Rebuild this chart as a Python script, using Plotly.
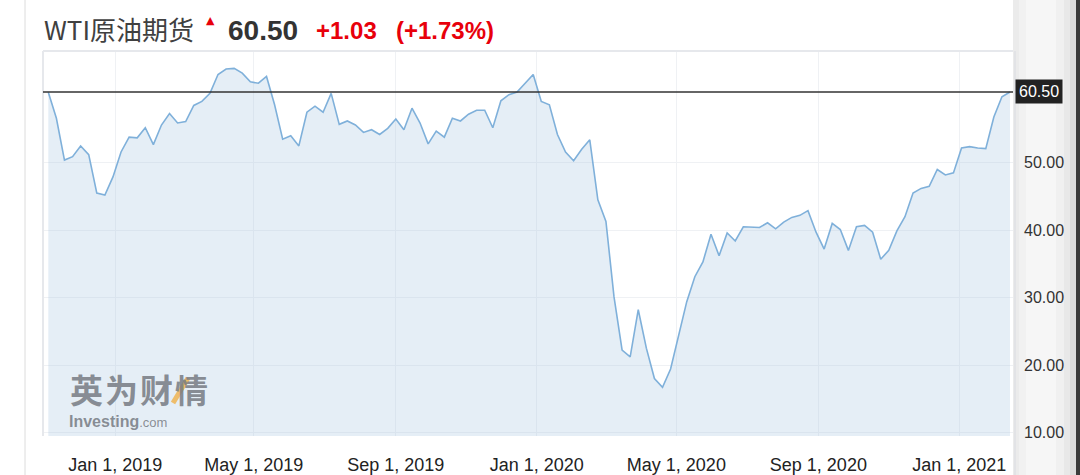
import pandas as pd
import plotly.graph_objects as go

# ---------------- data ----------------
start_week = "2018-11-04"
prices = [
    60.46, 56.6, 50.4, 50.9, 52.5, 51.2, 45.5, 45.2, 47.9, 51.6,
    53.8, 53.7, 55.2, 52.7, 55.6, 57.3, 55.9, 56.1, 58.5, 59.1,
    60.3, 63.1, 63.9, 64.0, 63.3, 62.0, 61.8, 62.8, 58.6, 53.5,
    54.0, 52.5, 57.5, 58.4, 57.5, 60.3, 55.7, 56.2, 55.6, 54.5,
    54.9, 54.2, 55.1, 56.5, 54.9, 58.1, 55.9, 52.8, 54.7, 53.8,
    56.6, 56.2, 57.2, 57.8, 57.8, 55.2, 59.2, 60.1, 60.5, 61.8,
    63.1, 59.1, 58.6, 54.2, 51.6, 50.3, 52.0, 53.4, 44.5, 41.3,
    30.1, 22.2, 21.2, 28.2, 22.5, 18.0, 16.7, 19.4, 24.2, 29.4,
    33.1, 35.3, 39.4, 36.2, 39.6, 38.4, 40.5, 40.4, 40.4, 41.1,
    40.2, 41.2, 41.9, 42.2, 42.9, 39.7, 37.2, 41.0, 40.1, 37.0,
    40.5, 40.7, 39.7, 35.7, 37.0, 39.9, 42.0, 45.5, 46.2, 46.5,
    49.0, 48.2, 48.5, 52.2, 52.4, 52.2, 52.1, 56.8, 59.8, 60.50,
]
dates = pd.date_range(start_week, periods=len(prices), freq="7D")

x_tick_vals = ["2019-01-01", "2019-05-01", "2019-09-01", "2020-01-01",
               "2020-05-01", "2020-09-01", "2021-01-01"]
x_tick_text = ["Jan 1, 2019", "May 1, 2019", "Sep 1, 2019", "Jan 1, 2020",
               "May 1, 2020", "Sep 1, 2020", "Jan 1, 2021"]
y_tick_vals = [10, 20, 30, 40, 50]

title_name = "WTI原油期货"
last_price = prices[-1]
change = 1.03
change_pct = 1.73
watermark_cn = "英为财情"

# ---------------- layout geometry ----------------
W, H = 1080, 475
L, R, T, B = 43, 1013, 51, 436          # plot area in pixels


def px(x):
    return (x - L) / (R - L)


def py(y):
    return (B - y) / (B - T)


fig = go.Figure()
fig.add_trace(go.Scatter(
    x=dates, y=prices, mode="lines",
    line=dict(color="#7fb0da", width=1.6),
    fill="tozeroy", fillcolor="rgba(170,198,226,0.30)",
    hoverinfo="skip", showlegend=False,
))

panel = [(R, 1019, "#ebebeb"), (1019, 1026, "#f1f1f1"), (1026, 1056, "#f6f6f6"),
         (1056, 1064, "#f0f0f0"), (1064, 1070, "#e8e8e8"), (1070, 1076, "#dedede"),
         (1076, W, "#3c3c3c")]
shapes = [
    dict(type="rect", xref="paper", yref="paper", x0=px(a), x1=px(b), y0=py(H), y1=py(0),
         fillcolor=c, line_width=0, layer="below")
    for a, b, c in panel
]
shapes += [
    dict(type="line", xref="paper", yref="paper", x0=px(R + 2), x1=px(R + 2), y0=py(H), y1=py(T),
         line=dict(color="#dfe1e5", width=1.5)),
    # page border on the left
    dict(type="line", xref="paper", yref="paper", x0=px(25), x1=px(25), y0=py(H), y1=py(0),
         line=dict(color="#dcdcdc", width=1)),
    # plot frame
    dict(type="line", xref="paper", yref="paper", x0=px(L), x1=px(R), y0=py(T), y1=py(T),
         line=dict(color="#e6e8ec", width=2)),
    dict(type="line", xref="paper", yref="paper", x0=px(L), x1=px(L), y0=py(T), y1=py(B),
         line=dict(color="#e6e8ec", width=2)),
    # last price line
    dict(type="line", xref="paper", yref="y", x0=0, x1=1, y0=last_price, y1=last_price,
         line=dict(color="#333333", width=1.5)),
    # watermark orange slash
    dict(type="line", xref="paper", yref="paper", x0=px(173), x1=px(188), y0=py(403), y1=py(378),
         line=dict(color="rgba(240,172,60,0.75)", width=5)),
]

red = "#e8000b"
wm_color = "rgba(118,123,130,0.85)"
annotations = [
    dict(x=px(42), y=py(29), text=title_name, showarrow=False, xanchor="left", yanchor="middle",
         font=dict(family="Noto Sans CJK SC", size=26, color="#404040")),
    dict(x=px(210), y=py(21), text="▲", showarrow=False, xanchor="center", yanchor="middle",
         font=dict(family="DejaVu Sans", size=11, color=red)),
    dict(x=px(226), y=py(30), text=f"<b>{last_price:.2f}</b>", showarrow=False, xanchor="left",
         yanchor="middle", font=dict(family="Liberation Sans", size=28, color="#333333")),
    dict(x=px(314), y=py(31), text=f"<b>{change:+.2f}</b>", showarrow=False, xanchor="left",
         yanchor="middle", font=dict(family="Liberation Sans", size=24, color=red)),
    dict(x=px(394), y=py(31), text=f"<b>({change_pct:+.2f}%)</b>", showarrow=False, xanchor="left",
         yanchor="middle", font=dict(family="Liberation Sans", size=24, color=red)),
    # last price tag
    dict(x=px(R + 2), y=last_price, xref="paper", yref="y", text=f"{last_price:.2f}",
         showarrow=False, xanchor="left", yanchor="middle", bgcolor="#222222",
         borderpad=3, font=dict(family="Liberation Sans", size=16, color="#ffffff")),
    dict(x=px(67), y=py(421), text="<b>Investing</b><span style='font-size:13px'>.com</span>",
         showarrow=False, xanchor="left", yanchor="middle",
         font=dict(family="Liberation Sans", size=16, color=wm_color)),
]
# watermark characters, spaced like the original logo
for i, ch in enumerate(watermark_cn):
    annotations.append(dict(x=px(86 + 35 * i), y=py(389), text=f"<b>{ch}</b>", showarrow=False,
                            xanchor="center", yanchor="middle",
                            font=dict(family="Noto Sans CJK SC", size=33, color=wm_color)))
for a in annotations:
    a.setdefault("xref", "paper")
    a.setdefault("yref", "paper")

fig.update_layout(
    width=W, height=H, template="none",
    margin=dict(l=L, r=W - R, t=T, b=H - B, pad=0),
    paper_bgcolor="white", plot_bgcolor="white",
    showlegend=False, shapes=shapes, annotations=annotations,
    xaxis=dict(
        type="date", range=["2018-10-30 09:40", "2021-02-16 14:00"],
        tickvals=x_tick_vals, ticktext=x_tick_text,
        showgrid=True, gridcolor="#eff1f4", gridwidth=1,
        zeroline=False, showline=False, ticks="", automargin=False,
        ticklabelstandoff=16,
        tickfont=dict(family="Liberation Sans", size=18, color="#222222"),
    ),
    yaxis=dict(
        side="right", range=[9.47, 66.58],
        tickvals=y_tick_vals, ticktext=[f"{v:.2f}" for v in y_tick_vals],
        showgrid=True, gridcolor="#eff1f4", gridwidth=1,
        zeroline=False, showline=False, ticks="", automargin=False,
        ticklabelstandoff=10,
        tickfont=dict(family="Liberation Sans", size=16, color="#333333"),
    ),
)

fig.write_html("out.html", config={"displayModeBar": False},
               post_script="document.body.style.margin='0';")
